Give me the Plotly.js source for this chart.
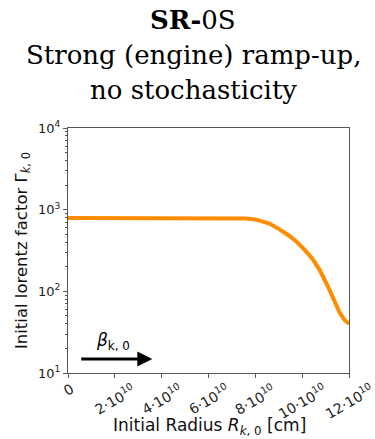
<!DOCTYPE html>
<html>
<head>
<meta charset="utf-8">
<script src="https://cdn.plot.ly/plotly-3.0.1.min.js"></script>
<style>html,body{margin:0;padding:0;background:#fff;}#chart{width:375px;height:439px;}</style>
</head>
<body>
<div id="chart"></div>
<script>
// Initial radius in units of 1e10 cm
const radius = [0, 1, 2, 3, 4, 5, 6, 6.9, 7.3, 7.6, 8.0, 8.3, 8.6, 9.0, 9.4, 9.75, 10.1, 10.46, 10.75, 11.1, 11.46, 11.6, 11.8, 11.96, 12.0];
const gamma  = [790, 790, 790, 790, 790, 790, 790, 790, 788, 782, 759, 724, 676, 582, 490, 407, 324, 245, 182, 115, 68, 55, 45, 41, 40];
const xTickVals = [0, 2, 4, 6, 8, 10, 12];
const xTickText = ["0", "2·10<sup>10</sup>", "4·10<sup>10</sup>", "6·10<sup>10</sup>", "8·10<sup>10</sup>", "10·10<sup>10</sup>", "12·10<sup>10</sup>"];
const yTickVals = [10, 100, 1000, 10000];
const yTickText = ["10<sup>1</sup>", "10<sup>2</sup>", "10<sup>3</sup>", "10<sup>4</sup>"];
const titleLines = ['<b>SR-</b>0S', 'Strong (engine) ramp-up,', 'no stochasticity'];
const xTitle = 'Initial Radius <i>R</i><sub><i>k</i>, 0</sub> [cm]';
const yTitle = 'Initial lorentz factor Γ<sub><i>k</i>, 0</sub>';
const arrowStart = [0.5, 14.8];
const arrowEnd = [3.6, 14.8];
const betaLabelPos = [1.92, 24];

const trace = {
  x: radius, y: gamma, type: 'scatter', mode: 'lines',
  line: {color: '#ff8c00', width: 4},
  hoverinfo: 'skip'
};

const axisCommon = {
  showline: true, linecolor: '#555', linewidth: 1, mirror: true,
  ticks: 'outside', ticklen: 4, tickcolor: '#555', showgrid: false, zeroline: false,
  tickfont: {family: 'DejaVu Sans', size: 13, color: '#222'}
};

const plotLeft = 68, plotRight = 349, plotTop = 128, plotBottom = 373;
const py = p => (plotBottom - p) / (plotBottom - plotTop);
const px = p => (p - plotLeft) / (plotRight - plotLeft);
const titleCenters = [20, 55, 90];

const annotations = titleLines.map((t, i) => ({
  text: t, xref: 'paper', yref: 'paper', x: px(193), y: py(titleCenters[i]),
  xanchor: 'center', yanchor: 'middle', showarrow: false,
  font: {family: 'DejaVu Serif', size: 26, color: '#000'}
}));
// x tick labels, centred on their ticks and rotated (matplotlib style)
xTickVals.forEach((v, i) => annotations.push({
  text: xTickText[i], xref: 'x', yref: 'paper', x: v, y: py(plotBottom + 6),
  xanchor: 'center', yanchor: 'top', showarrow: false, textangle: -30,
  font: {family: 'DejaVu Sans', size: 14, color: '#222'}, borderpad: 0
}));
annotations.push(
  {text: xTitle, xref: 'paper', yref: 'paper', x: px(209), y: py(426),
   xanchor: 'center', yanchor: 'middle', showarrow: false,
   font: {family: 'DejaVu Sans', size: 17, color: '#111'}},
  {x: arrowEnd[0], y: Math.log10(arrowEnd[1]), ax: arrowStart[0], ay: Math.log10(arrowStart[1]),
   xref: 'x', yref: 'y', axref: 'x', ayref: 'y', text: '', showarrow: true,
   arrowhead: 2, arrowsize: 1, arrowwidth: 3, arrowcolor: '#000'},
  {x: betaLabelPos[0], y: Math.log10(betaLabelPos[1]), xref: 'x', yref: 'y', text: '<i>β</i><sub>k, 0</sub>', showarrow: false,
   font: {family: 'DejaVu Sans', size: 17, color: '#000'}}
);

const layout = {
  width: 375, height: 439,
  margin: {l: plotLeft, r: 375 - plotRight, t: plotTop, b: 439 - plotBottom},
  paper_bgcolor: '#fff', plot_bgcolor: '#fff',
  showlegend: false,
  xaxis: Object.assign({}, axisCommon, {
    range: [0, 12], tickvals: xTickVals, ticktext: xTickText, showticklabels: false
  }),
  yaxis: Object.assign({}, axisCommon, {
    type: 'log', range: [1, 4], tickvals: yTickVals, ticktext: yTickText,
    minor: {ticks: 'outside', ticklen: 2, tickcolor: '#555', dtick: 'D1'},
    title: {text: yTitle, font: {family: 'DejaVu Sans', size: 16.5, color: '#111'}, standoff: 6}
  }),
  annotations: annotations
};

Plotly.newPlot('chart', [trace], layout, {staticPlot: true, displayModeBar: false});
</script>
</body>
</html>
